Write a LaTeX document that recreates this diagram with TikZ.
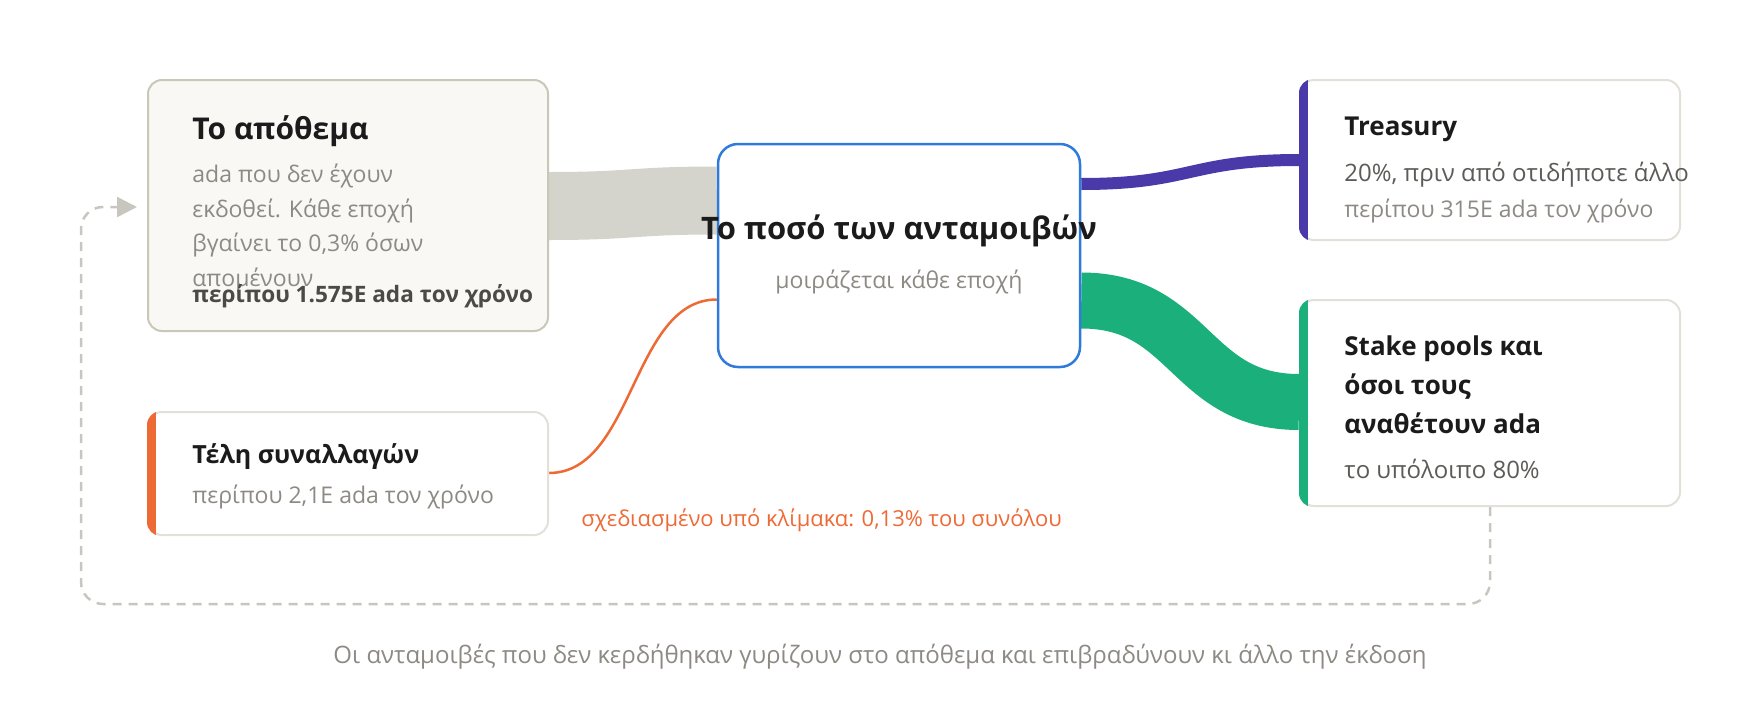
\documentclass[tikz,border=0pt]{standalone}
\usepackage{fontspec}
\setmainfont{Open Sans}
\usetikzlibrary{calc,arrows.meta,backgrounds}
\tikzset{x=0.5pt,y=-0.5pt}
\definecolor{inkdark}{HTML}{1B1B1B}
\definecolor{inkgrey}{HTML}{8D8A84}
\definecolor{inkmid}{HTML}{5C5B57}
\definecolor{inkbold}{HTML}{4B4A45}
\definecolor{reservefill}{HTML}{F9F8F4}
\definecolor{reserveline}{HTML}{C9C7B8}
\definecolor{cardline}{HTML}{E2E0D8}
\definecolor{flowgrey}{HTML}{D4D4CC}
\definecolor{rewardblue}{HTML}{2F7ADB}
\definecolor{treasurypurple}{HTML}{4A3AA9}
\definecolor{stakegreen}{HTML}{1BB07B}
\definecolor{feeorange}{HTML}{EE6A35}
\definecolor{loopgrey}{HTML}{C8C6BE}
\def\barw{9}
\tikzset{
  card/.style={draw=cardline, line width=1pt, fill=white, rounded corners=7pt, inner sep=0pt, minimum width=190pt},
  title/.style={anchor=base west, inner sep=0pt, font=\bfseries\fontsize{13}{16}\selectfont, text=inkdark},
  body/.style={anchor=base west, inner sep=0pt, font=\fontsize{11.5}{14}\selectfont, text=inkgrey},
  bodymid/.style={body, font=\fontsize{12}{14}\selectfont, text=inkmid},
}

\begin{document}
\begin{tikzpicture}

\useasboundingbox (0,0) rectangle (1760,712);

%% the cards
\node[card, fill=reservefill, draw=reserveline, minimum width=200pt, minimum height=125.5pt] (reserve) at (348,205.5) {};
\node[card, draw=rewardblue, line width=1.25pt, rounded corners=10pt, minimum width=181pt, minimum height=111.5pt] (pot) at (899,255.5) {};
\node[card, minimum height=80pt] (treasury) at (1490,160) {};
\node[card, minimum height=103pt] (stake) at (1490,403) {};
\node[card, minimum width=200pt, minimum height=61.5pt] (fees) at (348,473.5) {};

%% coloured side bars
\begin{scope}
\clip[rounded corners=7pt] (treasury.south west) rectangle (treasury.north east);
\fill[treasurypurple] (treasury.south west) rectangle ($(treasury.north west)+(\barw,0)$);
\end{scope}
\begin{scope}
\clip[rounded corners=7pt] (stake.south west) rectangle (stake.north east);
\fill[stakegreen] (stake.south west) rectangle ($(stake.north west)+(\barw,0)$);
\end{scope}
\begin{scope}
\clip[rounded corners=7pt] (fees.south west) rectangle (fees.north east);
\fill[feeorange] (fees.south west) rectangle ($(fees.north west)+(\barw,0)$);
\end{scope}

%% texts of the reserve
\node[title, font=\bfseries\fontsize{15}{18}\selectfont] (reserve-t) at ($(reserve.north west)+(45,60)$) {Το απόθεμα};
\node[body] (reserve-a) at ($(reserve.north west)+(45,103)$) {ada που δεν έχουν};
\node[body] (reserve-b) at ($(reserve.north west)+(45,138)$) {εκδοθεί. Κάθε εποχή};
\node[body] (reserve-c) at ($(reserve.north west)+(45,172)$) {βγαίνει το 0,3\% όσων};
\node[body] (reserve-d) at ($(reserve.north west)+(45,207)$) {απομένουν};
\node[body, font=\bfseries\fontsize{11.3}{14}\selectfont, text=inkbold] (reserve-e) at ($(reserve.north west)+(45,223)$) {περίπου 1.575E ada τον χρόνο};

%% texts of the pot
\node[anchor=base, inner sep=0pt, font=\bfseries\fontsize{15.5}{19}\selectfont, text=inkdark] (pot-t) at ($(pot.north)+(0,97)$) {Το ποσό των ανταμοιβών};
\node[body, anchor=base] (pot-a) at ($(pot.north)+(0,146)$) {μοιράζεται κάθε εποχή};

%% texts of the treasury
\node[title] (treasury-t) at ($(treasury.north west)+(45,56)$) {Treasury};
\node[bodymid] (treasury-a) at ($(treasury.north west)+(45,102)$) {20\%, πριν από οτιδήποτε άλλο};
\node[body] (treasury-b) at ($(treasury.north west)+(45,138)$) {περίπου 315E ada τον χρόνο};

%% texts of the stake pools
\node[title] (stake-t) at ($(stake.north west)+(45,56)$) {Stake pools και};
\node[title] (stake-u) at ($(stake.north west)+(45,95)$) {όσοι τους};
\node[title] (stake-v) at ($(stake.north west)+(45,134)$) {αναθέτουν ada};
\node[bodymid] (stake-a) at ($(stake.north west)+(45,179)$) {το υπόλοιπο 80\%};

%% texts of the fees
\node[title, font=\bfseries\fontsize{12.5}{16}\selectfont] (fees-t) at ($(fees.north west)+(45,52)$) {Τέλη συναλλαγών};
\node[body] (fees-a) at ($(fees.north west)+(45,92)$) {περίπου 2,1E ada τον χρόνο};

\node[body, font=\fontsize{11}{13}\selectfont, text=feeorange] (scale-note) at ($(fees.east)+(32,53)$) {σχεδιασμένο υπό κλίμακα: 0,13\% του συνόλου};
\node[body, anchor=base, font=\fontsize{12}{14}\selectfont] (loop-note) at (880,663) {Οι ανταμοιβές που δεν κερδήθηκαν γυρίζουν στο απόθεμα και επιβραδύνουν κι άλλο την έκδοση};

%% flows
\begin{scope}[on background layer]
\draw[flowgrey, line width=34pt] ($(reserve.east)+(0,0.5)$) .. controls +(85,0) and +(-85,0) .. ($(pot.west)+(0,-55)$);
\draw[treasurypurple, line width=6pt] ($(pot.east)+(0,-71.5)$) .. controls +(110,0) and +(-110,0) .. (treasury.west);
\draw[stakegreen, line width=28pt] ($(pot.east)+(0,45)$) .. controls +(110,0) and +(-110,0) .. ($(stake.west)+(0,-1)$);
\draw[feeorange, line width=1.25pt] ($(fees.east)+(0,-0.5)$) .. controls +(85,0) and +(-85,0) .. ($(pot.west)+(0,44)$);
\end{scope}

%% unearned rewards go back
\coordinate (loop-end) at ($(reserve.west)+(-10,1.5)$);
\draw[loopgrey, line width=1.25pt, dash pattern=on 4.5pt off 3.5pt, rounded corners=11pt, -{Triangle[length=10pt,width=10pt]}] (stake.south) -- ++(0,97) -| ($(loop-end)+(-56,0)$) -- (loop-end);

\end{tikzpicture}
\end{document}
